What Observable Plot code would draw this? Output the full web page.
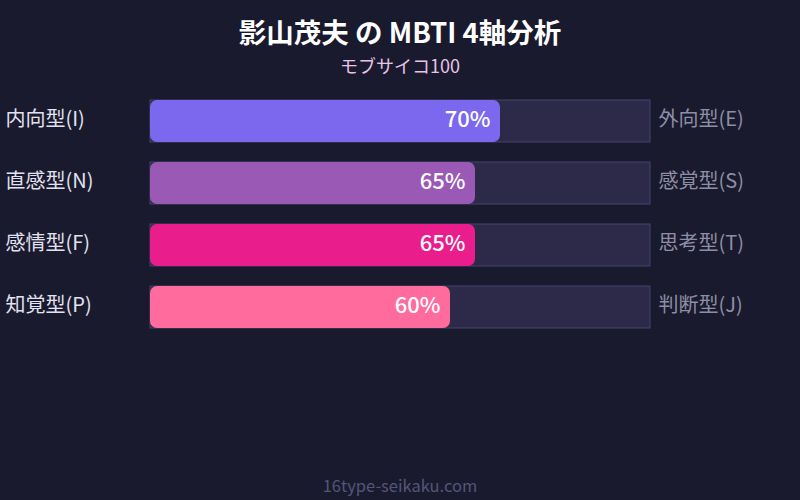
<!DOCTYPE html>
<html><head><meta charset="utf-8">
<script src="https://cdn.jsdelivr.net/npm/d3@7"></script>
<script src="https://cdn.jsdelivr.net/npm/@observablehq/plot@0.6"></script>
<style>
html,body{margin:0;padding:0;background:#1a1a2e;}
#wrap{position:relative;width:800px;height:500px;overflow:hidden;font-family:"Noto Sans CJK JP",sans-serif;}
#title{position:absolute;left:0;width:800px;top:16px;line-height:30px;height:30px;text-align:center;color:#ffffff;font-size:27.5px;font-weight:bold;}
#sub{position:absolute;left:0;width:800px;top:55px;line-height:20px;height:20px;text-align:center;color:#e8c4e8;font-size:18px;}
#foot{position:absolute;left:0;width:800px;top:475px;line-height:20px;text-align:center;color:#55557a;font-size:16.5px;}
#chart{position:absolute;left:0;top:0;}
</style></head>
<body><div id="wrap">
<div id="chart"></div>
<div id="title">影山茂夫 の MBTI 4軸分析</div>
<div id="sub">モブサイコ100</div>
<div id="foot">16type-seikaku.com</div>
</div>
<script>
const leftLabels = ["内向型(I)", "直感型(N)", "感情型(F)", "知覚型(P)"];
const rightLabels = ["外向型(E)", "感覚型(S)", "思考型(T)", "判断型(J)"];
const values = [70, 65, 65, 60];
const colors = ["#7b68ee", "#9b59b6", "#e91e8c", "#ff6b9d"];

const rows = leftLabels.map((l, i) => ({left: l, right: rightLabels[i], value: values[i], color: colors[i]}));

const chart = Plot.plot({
  width: 800, height: 500,
  margin: 0,
  style: {background: "transparent", fontFamily: '"Noto Sans CJK JP",sans-serif'},
  x: {domain: [0, 100], range: [150, 650], axis: null},
  y: {domain: leftLabels, range: [100, 328], paddingInner: 20/62, paddingOuter: 0, axis: null},
  marks: [
    Plot.barX(rows, {y: "left", x1: 0, x2: 100, fill: "#2c2a48", stroke: "#45436a", strokeWidth: 1}),
    Plot.barX(rows, {y: "left", x1: 0, x2: "value", fill: "color", rx: 7}),
    Plot.text(rows, {y: "left", x: "value", text: d => d.value + "%", dx: -10, dy: -2, textAnchor: "end", fill: "#ffffff", fontSize: 22, fontWeight: 500}),
    Plot.text(rows, {y: "left", frameAnchor: "left", text: "left", dx: 5, dy: -2, textAnchor: "start", fill: "#e2e2f0", fontSize: 20}),
    Plot.text(rows, {y: "left", x: 100, text: "right", dx: 8, dy: -2, textAnchor: "start", fill: "#8e8ea6", fontSize: 20})
  ]
});
document.getElementById("chart").appendChild(chart);
</script>
</body></html>
